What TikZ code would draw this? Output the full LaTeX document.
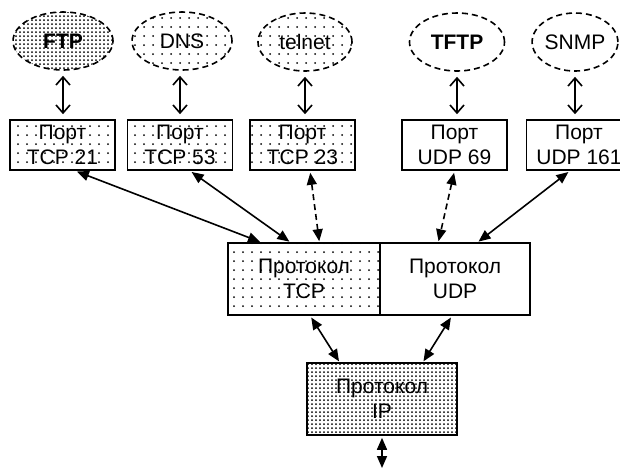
\documentclass[tikz,border=0pt]{standalone}
\usepackage{fontspec}
\setmainfont{Liberation Sans}
\usetikzlibrary{arrows.meta,patterns.meta,shapes.geometric,calc}

\begin{document}
\begin{tikzpicture}[x=0.5pt,y=-0.5pt,
    font=\fontsize{10.5}{12.5}\selectfont,
    app/.style={ellipse,draw,densely dashed,thick,minimum width=50pt,minimum height=29pt,inner sep=0pt},
    portbox/.style={rectangle,draw,thick,minimum width=52.5pt,minimum height=25pt,align=center,inner sep=0pt},
    protbox/.style={rectangle,draw,thick,minimum width=75pt,minimum height=36pt,align=center,inner sep=0pt},
    densedots/.style={pattern={Dots[distance=2pt,radius=0.5pt]}},
    lightdots/.style={pattern={Dots[distance=4.5pt,radius=0.5pt]}},
    vlink/.style={thick,{Straight Barb[length=4pt,width=7pt]}-{Straight Barb[length=4pt,width=7pt]},shorten <=2.5pt,shorten >=2.5pt},
    dlink/.style={thick,{Triangle[length=6pt,width=5pt]}-{Triangle[length=6pt,width=5pt]},shorten <=1pt,shorten >=0.5pt}]
  \useasboundingbox (0,0) rectangle (620,468);
  % applications
  \node[app,densedots,font=\fontsize{10.5}{12.5}\selectfont\bfseries] (ftp) at (63,41) {FTP};
  \node[app,lightdots] (dns) at (182,41) {DNS};
  \node[app,lightdots,minimum width=47pt] (telnet) at (305,42) {telnet};
  \node[app,minimum width=47.5pt,font=\fontsize{10.5}{12.5}\selectfont\bfseries] (tftp) at (457,42) {TFTP};
  \node[app,minimum width=42.5pt] (snmp) at (575,42) {SNMP};
  % ports
  \node[portbox,lightdots] (p21) at (62.5,145) {Порт\\TCP 21};
  \node[portbox,lightdots] (p53) at (180,145) {Порт\\TCP 53};
  \node[portbox,lightdots] (p23) at (302.5,145) {Порт\\TCP 23};
  \node[portbox] (p69) at (454.5,145) {Порт\\UDP 69};
  \node[portbox] (p161) at (579,145) {Порт\\UDP 161};
  % protocols
  \node[protbox,lightdots,minimum width=76pt] (tcp) at (304,279) {Протокол\\TCP};
  \node[protbox] (udp) at (455,279) {Протокол\\UDP};
  \node[protbox,densedots] (ip) at (382,399) {Протокол\\IP};
  \coordinate (net) at (382,468);
  % links
  \draw[vlink] (ftp.south) -- (ftp.south |- p21.north);
  \draw[vlink] (p53.north |- dns.south) -- (p53.north);
  \draw[vlink] (telnet.south) -- (telnet.south |- p23.north);
  \draw[vlink] (tftp.south) -- (tftp.south |- p69.north);
  \draw[vlink] (snmp.south) -- (snmp.south |- p161.north);
  \draw[dlink] ([xshift=6.25pt]p21.south) -- ($(tcp.north west)!0.22!(tcp.north east)$);
  \draw[dlink] ([xshift=5pt]p53.south) -- ($(tcp.north west)!0.41!(tcp.north east)$);
  \draw[dlink,densely dashed] ([xshift=3.75pt]p23.south) -- ($(tcp.north west)!0.6!(tcp.north east)$);
  \draw[dlink,densely dashed] (p69.south) -- ($(udp.north west)!0.39!(udp.north east)$);
  \draw[dlink] ([xshift=-4.5pt]p161.south) -- ($(udp.north west)!0.65!(udp.north east)$);
  \draw[dlink] ($(tcp.south west)!0.54!(tcp.south east)$) -- ($(ip.north west)!0.22!(ip.north east)$);
  \draw[dlink] ($(udp.south west)!0.48!(udp.south east)$) -- ($(ip.north west)!0.77!(ip.north east)$);
  \draw[dlink,shorten >=0pt] (ip.south) -- (net);
\end{tikzpicture}
\end{document}
